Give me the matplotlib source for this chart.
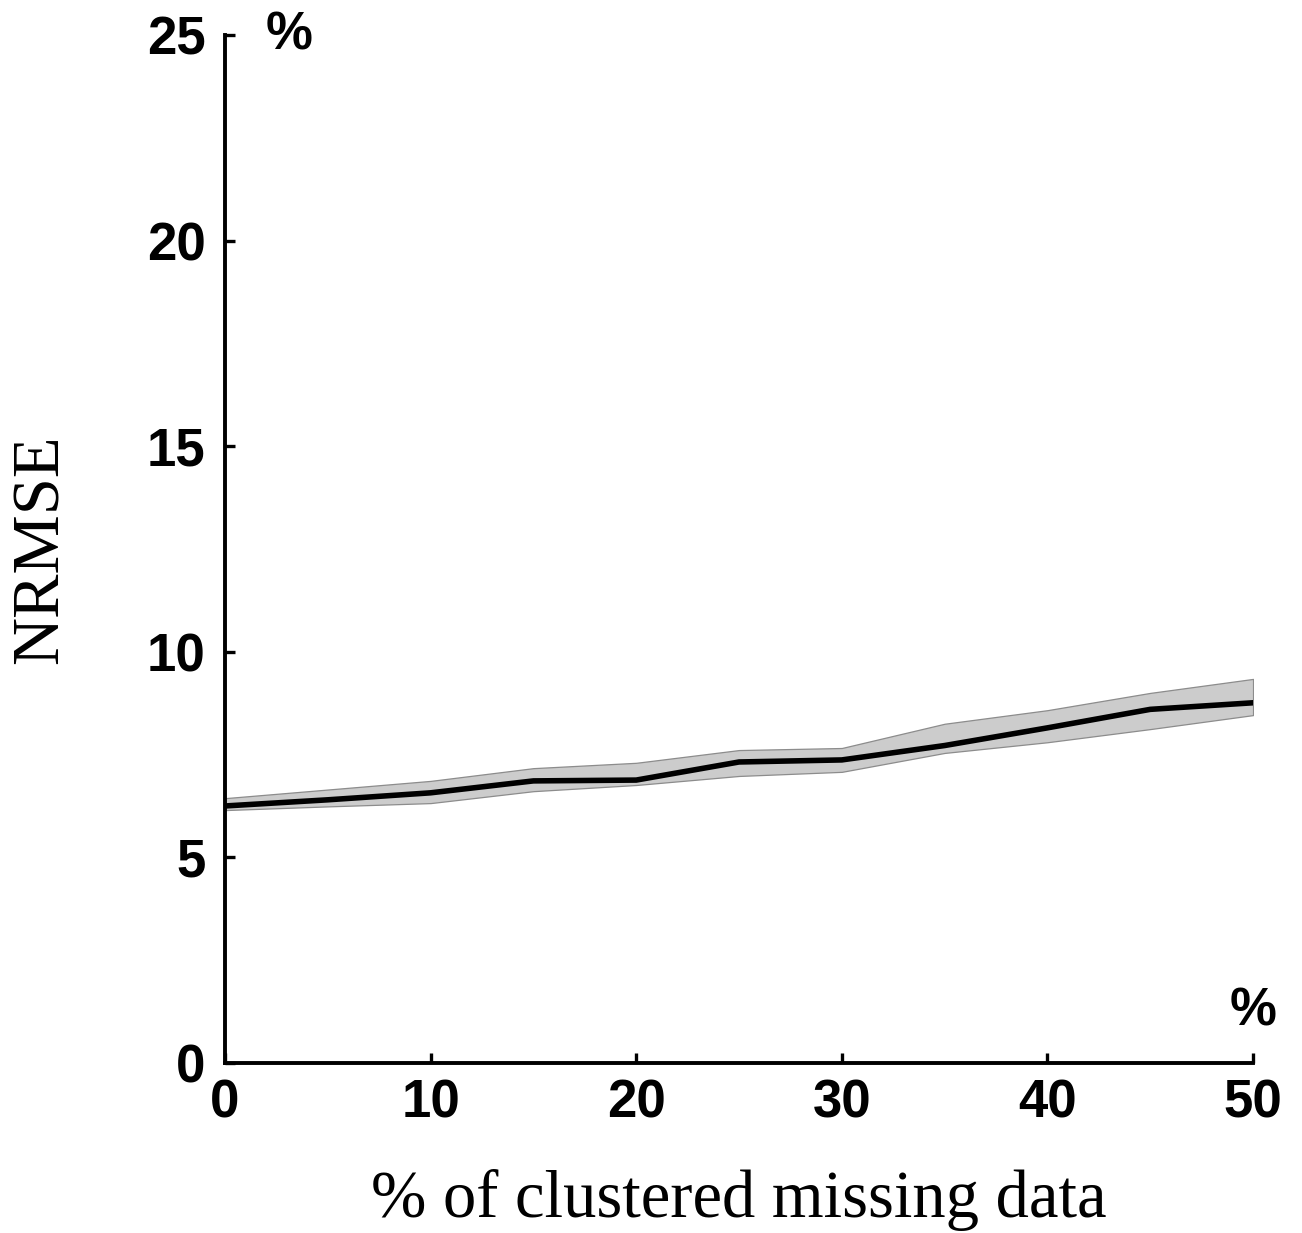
"""NRMSE vs % of clustered missing data."""

import matplotlib
matplotlib.use('Agg')
import matplotlib.pyplot as plt

# values
missing_pct = [0, 5, 10, 15, 20, 25, 30, 35, 40, 45, 50]
nrmse_mean = [6.25, 6.40, 6.57, 6.86, 6.88, 7.32, 7.37, 7.72, 8.15, 8.60, 8.76]
nrmse_upper = [6.44, 6.65, 6.86, 7.17, 7.30, 7.61, 7.66, 8.25, 8.58, 9.00, 9.34]
nrmse_lower = [6.15, 6.24, 6.32, 6.61, 6.76, 6.98, 7.08, 7.54, 7.80, 8.12, 8.46]

x_ticks = [0, 10, 20, 30, 40, 50]
y_ticks = [0, 5, 10, 15, 20, 25]

tick_font = {'family': 'Liberation Sans', 'weight': 'bold', 'size': 38}
label_font = {'family': 'Liberation Serif', 'size': 48}

fig = plt.figure(figsize=(13.02, 12.33), dpi=100)
ax = fig.add_axes([0.1728, 0.1379, 0.7896, 0.8337])

ax.fill_between(missing_pct, nrmse_lower, nrmse_upper, facecolor='#cccccc',
                edgecolor='#8c8c8c', linewidth=0.9)
ax.plot(missing_pct, nrmse_mean, color='black', linewidth=4.0,
        solid_joinstyle='round')

ax.set_xlim(0, 50)
ax.set_ylim(0, 25)
ax.set_xticks(x_ticks)
ax.set_yticks(y_ticks)
ax.set_xticklabels([str(t) for t in x_ticks], fontdict=tick_font)
ax.set_yticklabels([str(t) for t in y_ticks], fontdict=tick_font)

for side in ['top', 'right']:
    ax.spines[side].set_visible(False)
for side in ['left', 'bottom']:
    ax.spines[side].set_linewidth(2.8)

ax.tick_params(axis='both', direction='in', length=7, width=2.4)
ax.tick_params(axis='x', pad=11)
ax.tick_params(axis='y', pad=14)

ax.set_xlabel('% of clustered missing data', fontdict=label_font, labelpad=29)
ax.set_ylabel('NRMSE', fontdict=label_font, labelpad=54)

# unit markers at the axis ends
ax.text(0.062, 1.0, '%', transform=ax.transAxes, ha='center', va='center',
        fontdict=tick_font, clip_on=False)
ax.text(1.0, 0.05, '%', transform=ax.transAxes, ha='center', va='center',
        fontdict=tick_font, clip_on=False)

plt.savefig('out.png', dpi=100)
plt.close()
